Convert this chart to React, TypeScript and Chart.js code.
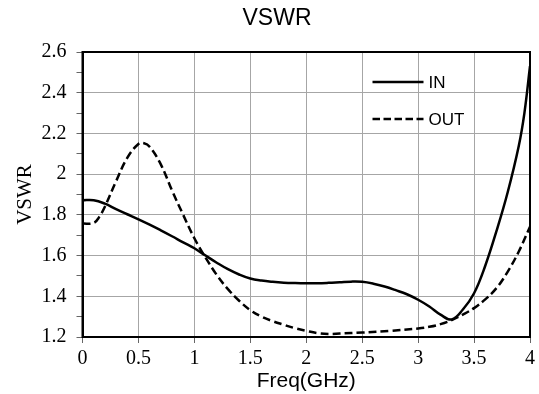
import React, { useEffect, useRef } from "react";
import { Chart, registerables } from "chart.js";

Chart.register(...registerables);

// Frequency (GHz) and VSWR values
const inFreq = [0, 0.1, 0.2, 0.3, 0.4, 0.5, 0.6, 0.7, 0.8, 0.9, 1.0, 1.1, 1.2, 1.3, 1.4, 1.5, 1.6, 1.7, 1.8, 1.9, 2.0, 2.1, 2.2, 2.3, 2.4, 2.5, 2.6, 2.7, 2.8, 2.9, 3.0, 3.1, 3.2, 3.3, 3.4, 3.5, 3.6, 3.7, 3.8, 3.9, 3.95, 4.0];
const inVswr = [1.872, 1.872, 1.855, 1.828, 1.803, 1.778, 1.752, 1.724, 1.695, 1.665, 1.636, 1.6, 1.565, 1.533, 1.507, 1.487, 1.477, 1.471, 1.467, 1.465, 1.464, 1.464, 1.466, 1.469, 1.472, 1.471, 1.462, 1.448, 1.43, 1.41, 1.383, 1.35, 1.31, 1.286, 1.335, 1.415, 1.55, 1.72, 1.91, 2.14, 2.3, 2.53];

const outFreq = [0, 0.1, 0.15, 0.2, 0.3, 0.4, 0.5, 0.55, 0.6, 0.7, 0.8, 0.9, 1.0, 1.1, 1.2, 1.3, 1.4, 1.5, 1.6, 1.7, 1.8, 1.9, 2.0, 2.1, 2.2, 2.3, 2.5, 2.75, 3.0, 3.1, 3.2, 3.3, 3.4, 3.5, 3.6, 3.7, 3.8, 3.9, 4.0];
const outVswr = [1.757, 1.76, 1.79, 1.84, 1.965, 2.08, 2.148, 2.152, 2.135, 2.048, 1.92, 1.8, 1.685, 1.59, 1.505, 1.435, 1.378, 1.332, 1.3, 1.278, 1.26, 1.243, 1.23, 1.219, 1.215, 1.217, 1.222, 1.23, 1.242, 1.25, 1.263, 1.283, 1.31, 1.342, 1.385, 1.44, 1.52, 1.62, 1.742];

const seriesLabels = ["IN", "OUT"];
const chartTitle = "VSWR";
const xTitle = "Freq(GHz)";
const yTitle = "VSWR";
const xMin = 0, xMax = 4, xStep = 0.5;
const yMin = 1.2, yMax = 2.6, yStep = 0.1;

const SERIF = "'Liberation Serif', 'Times New Roman', serif";
const SANS = "'Liberation Sans', Arial, sans-serif";

export default function App() {
  const ref = useRef<HTMLCanvasElement>(null);

  useEffect(() => {
    document.body.style.margin = "0";
    const canvas = ref.current;
    if (!canvas) return;

    const frame = {
      id: "frame",
      beforeDatasetsDraw(chart: any) {
        const { ctx, chartArea: a } = chart;
        ctx.save();
        ctx.strokeStyle = "#000";
        ctx.lineWidth = 2;
        ctx.strokeRect(a.left, a.top, a.right - a.left, a.bottom - a.top);
        ctx.restore();
      },
    };

    const insideLegend = {
      id: "insideLegend",
      afterDatasetsDraw(chart: any) {
        const { ctx, chartArea: a } = chart;
        const x0 = a.right - 157.5;
        const x1 = a.right - 106.5;
        const ys = [a.top + 30, a.top + 67];
        ctx.save();
        chart.data.datasets.forEach((ds: any, i: number) => {
          ctx.beginPath();
          ctx.strokeStyle = "#000";
          ctx.lineWidth = 2.5;
          ctx.setLineDash(ds.borderDash ? [7.5, 3.5] : []);
          ctx.moveTo(x0, ys[i]);
          ctx.lineTo(x1, ys[i]);
          ctx.stroke();
          ctx.setLineDash([]);
          ctx.fillStyle = "#000";
          ctx.font = `17px ${SANS}`;
          ctx.textBaseline = "middle";
          ctx.textAlign = "left";
          ctx.fillText(ds.label, x1 + 5, ys[i] + 1);
        });
        ctx.restore();
      },
    };

    const chart = new Chart(canvas, {
      type: "line",
      data: {
        datasets: [
          {
            label: seriesLabels[0],
            data: inFreq.map((x, i) => ({ x, y: inVswr[i] })),
            borderColor: "#000",
            borderWidth: 2.5,
            pointRadius: 0,
            fill: false,
            tension: 0.4,
          },
          {
            label: seriesLabels[1],
            data: outFreq.map((x, i) => ({ x, y: outVswr[i] })),
            borderColor: "#000",
            borderWidth: 2.5,
            borderDash: [8, 4],
            pointRadius: 0,
            fill: false,
            tension: 0.4,
          },
        ],
      },
      options: {
        responsive: false,
        animation: false,
        layout: { padding: { left: 23.5, right: 8.5, top: 0, bottom: 0 } },
        plugins: {
          legend: { display: false },
          tooltip: { enabled: false },
          title: {
            display: true,
            text: chartTitle,
            color: "#000",
            font: { family: SANS, size: 23, weight: "normal" },
            padding: { top: 5, bottom: 19.4 },
          },
        },
        scales: {
          x: {
            type: "linear",
            min: xMin,
            max: xMax,
            ticks: {
              stepSize: xStep,
              autoSkip: false,
              maxRotation: 0,
              color: "#000",
              padding: 4,
              font: { family: SERIF, size: 20 },
              callback: (v: any) => String(Math.round(Number(v) * 10) / 10),
            },
            grid: { color: "#a6a6a6", lineWidth: 1, tickLength: 6, tickColor: "#666" },
            border: { color: "#000", width: 2 },
            title: {
              display: true,
              text: xTitle,
              color: "#000",
              font: { family: SANS, size: 21 },
              padding: { top: 0, bottom: 0 },
            },
            afterFit: (s: any) => {
              s.height = 57;
            },
          },
          y: {
            type: "linear",
            min: yMin,
            max: yMax,
            ticks: {
              stepSize: yStep,
              autoSkip: false,
              color: "#000",
              padding: 10,
              font: { family: SERIF, size: 20 },
              callback: (v: any) => {
                const k = Math.round(Number(v) * 10);
                return k % 2 === 0 ? String(k / 10) : "";
              },
            },
            grid: {
              color: (c: any) =>
                c.tick && Math.round(c.tick.value * 10) % 2 === 0 ? "#a6a6a6" : "rgba(0,0,0,0)",
              tickColor: "#666",
              tickLength: 6,
              lineWidth: 1,
            },
            border: { color: "#000", width: 2 },
            title: {
              display: true,
              text: yTitle,
              color: "#000",
              font: { family: SERIF, size: 21 },
              padding: { top: -11, bottom: 0 },
            },
            afterFit: (s: any) => {
              s.width = 59;
            },
          },
        },
      },
      plugins: [frame, insideLegend],
    } as any);

    return () => chart.destroy();
  }, []);

  return <canvas ref={ref} width={539} height={394} style={{ display: "block" }} />;
}
